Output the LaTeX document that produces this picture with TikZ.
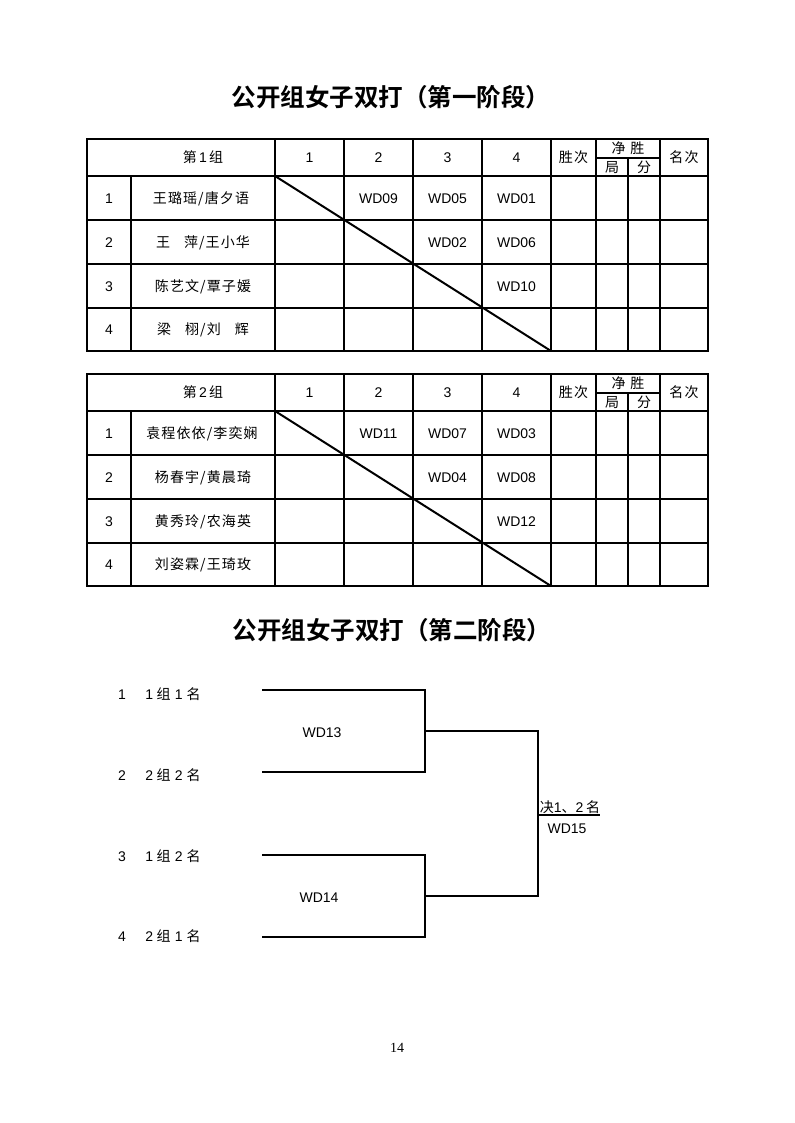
\documentclass[tikz,border=0pt]{standalone}
\usepackage{fontspec}
\setmainfont{Liberation Sans}
\newfontfamily\cjk{Noto Sans CJK SC}[LetterSpace=8]
\newfontfamily\cjkhead{Noto Sans CJK SC Bold}
\newfontfamily\pagefont{Liberation Serif}
\newcommand{\zh}[1]{{\cjk #1}}

\tikzset{
  cell/.style  = {font=\fontsize{10.5}{12}\selectfont, inner sep=0pt, text height=9pt, text depth=1pt},
  heading/.style = {font=\cjkhead\fontsize{18.4}{20}\selectfont, inner sep=0pt},
  thinline/.style  = {line width=1.1pt},
  frameline/.style = {line width=2pt},
  wire/.style  = {line width=1.5pt}
}

% frame, header and row numbers of one group table
\newcommand{\grouptable}[2]{%
  \draw[thinline] (131,176) -- (131,351);
  \foreach \x in {275,344,413,482,551,596,660} \draw[thinline] (\x,139) -- (\x,351);
  \draw[thinline] (628,158) -- (628,351);
  \draw[thinline] (596,158) -- (660,158);
  \foreach \y in {176,220,264,308} \draw[thinline] (87,\y) -- (708,\y);
  \draw[frameline] (87,139) rectangle (708,351);
  \draw[line width=1.5pt] (275,176) -- (551,351);
  \node[cell] (#1-head) at (203,157.5) {\zh{第}\,#2\,\zh{组}};
  \node[cell] (#1-c1) at (309.5,157.5) {1};
  \node[cell] (#1-c2) at (378.5,157.5) {2};
  \node[cell] (#1-c3) at (447.5,157.5) {3};
  \node[cell] (#1-c4) at (516.5,157.5) {4};
  \node[cell] (#1-win)  at (573.5,157.5) {\zh{胜次}};
  \node[cell] (#1-net)  at (628,148.5)   {\zh{净\,\,胜}};
  \node[cell] (#1-ju)   at (612,167.5)   {\zh{局}};
  \node[cell] (#1-fen)  at (644,167.5)   {\zh{分}};
  \node[cell] (#1-rank) at (684,157.5)   {\zh{名次}};
  \node[cell] (#1-r1) at (109,198) {1};
  \node[cell] (#1-r2) at (109,242) {2};
  \node[cell] (#1-r3) at (109,286) {3};
  \node[cell] (#1-r4) at (109,329.5) {4};
}

\begin{document}
\begin{tikzpicture}[x=0.75pt, y=-0.75pt]
  \useasboundingbox (0,0) rectangle (794,1123);

  \node[heading] (title1) at (391,97) {公开组女子双打（第一阶段）};

  \begin{scope}
    \grouptable{ga}{1}
    \node[cell] (ga-n1) at (201,198)   {\zh{王璐瑶/唐夕语}};
    \node[cell] (ga-n2) at (203,242)   {\zh{王\hspace{1em}萍/王小华}};
    \node[cell] (ga-n3) at (203,286)   {\zh{陈艺文/覃子媛}};
    \node[cell] (ga-n4) at (203,329.5) {\zh{梁\hspace{1em}栩/刘\hspace{1em}辉}};
    \node[cell] (ga-12) at (378.5,198) {WD09};
    \node[cell] (ga-13) at (447.5,198) {WD05};
    \node[cell] (ga-14) at (516.5,198) {WD01};
    \node[cell] (ga-23) at (447.5,242) {WD02};
    \node[cell] (ga-24) at (516.5,242) {WD06};
    \node[cell] (ga-34) at (516.5,286) {WD10};
  \end{scope}

  \begin{scope}[shift={(0,235)}]
    \grouptable{gb}{2}
    \node[cell] (gb-n1) at (202,198)   {\zh{袁程依依/李奕娴}};
    \node[cell] (gb-n2) at (203,242)   {\zh{杨春宇/黄晨琦}};
    \node[cell] (gb-n3) at (203,286)   {\zh{黄秀玲/农海英}};
    \node[cell] (gb-n4) at (203,329.5) {\zh{刘姿霖/王琦玫}};
    \node[cell] (gb-12) at (378.5,198) {WD11};
    \node[cell] (gb-13) at (447.5,198) {WD07};
    \node[cell] (gb-14) at (516.5,198) {WD03};
    \node[cell] (gb-23) at (447.5,242) {WD04};
    \node[cell] (gb-24) at (516.5,242) {WD08};
    \node[cell] (gb-34) at (516.5,286) {WD12};
  \end{scope}

  \node[heading] (title2) at (392,630) {公开组女子双打（第二阶段）};

  % second stage bracket
  \node[cell] (s1) at (122,694) {1};
  \node[cell] (s2) at (122,775) {2};
  \node[cell] (s3) at (122,856) {3};
  \node[cell] (s4) at (122,936) {4};
  \node[cell, anchor=west] (e1) at (145,694) {1\hspace{0.25em}\zh{组}\hspace{0.3em}1\hspace{0.3em}\zh{名}};
  \node[cell, anchor=west] (e2) at (145,775) {2\hspace{0.25em}\zh{组}\hspace{0.3em}2\hspace{0.3em}\zh{名}};
  \node[cell, anchor=west] (e3) at (145,856) {1\hspace{0.25em}\zh{组}\hspace{0.3em}2\hspace{0.3em}\zh{名}};
  \node[cell, anchor=west] (e4) at (145,936) {2\hspace{0.25em}\zh{组}\hspace{0.3em}1\hspace{0.3em}\zh{名}};

  \coordinate (p1) at (262,690);  \coordinate (p1e) at (425,690);
  \coordinate (p2) at (262,772);  \coordinate (p2e) at (425,772);
  \coordinate (p3) at (262,855);  \coordinate (p3e) at (425,855);
  \coordinate (p4) at (262,937);  \coordinate (p4e) at (425,937);
  \coordinate (m12) at (425,731); \coordinate (m12e) at (538,731);
  \coordinate (m34) at (425,896); \coordinate (m34e) at (538,896);
  \coordinate (fin) at (538,815); \coordinate (fine) at (600,815);

  \draw[wire] (p1) -- (p1e) -- (p2e) -- (p2);
  \draw[wire] (p3) -- (p3e) -- (p4e) -- (p4);
  \draw[wire] (m12) -- (m12e) -- (m34e) -- (m34);
  \draw[wire] (fin) -- (fine);

  \node[cell] (wd13) at (322,732) {WD13};
  \node[cell] (wd14) at (319,897) {WD14};
  \node[cell] (final) at (570,807) {\zh{决}1\zh{、}2\hspace{0.2em}\zh{名}};
  \node[cell] (wd15) at (567,828) {WD15};

  \node[font=\pagefont\fontsize{10.5}{12}\selectfont, inner sep=0pt] (page) at (397,1048) {14};
\end{tikzpicture}
\end{document}
